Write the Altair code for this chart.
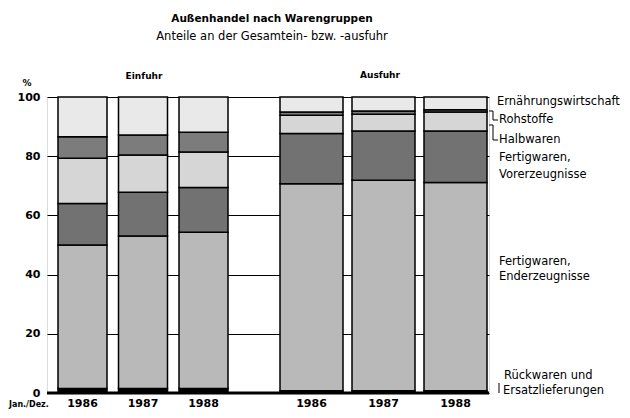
import altair as alt
import pandas as pd

# ---------------- data ----------------
groups = [
    "Rückwaren und Ersatzlieferungen",
    "Fertigwaren, Enderzeugnisse",
    "Fertigwaren, Vorerzeugnisse",
    "Halbwaren",
    "Rohstoffe",
    "Ernährungswirtschaft",
]
years = ["1986", "1987", "1988"]

# shares in % (bottom to top), per year
einfuhr_1986 = [1.5, 48.5, 14.0, 15.3, 7.3, 13.4]
einfuhr_1987 = [1.5, 51.5, 14.8, 12.6, 6.8, 12.8]
einfuhr_1988 = [1.5, 52.8, 15.1, 12.0, 6.7, 11.9]
ausfuhr_1986 = [0.8, 69.9, 17.0, 6.1, 1.1, 5.1]
ausfuhr_1987 = [0.8, 71.1, 16.6, 5.7, 1.1, 4.7]
ausfuhr_1988 = [0.8, 70.3, 17.4, 6.4, 0.8, 4.3]

y_ticks = [0, 20, 40, 60, 80, 100]

# ---------------- layout (pixels inside plot area) ----------------
W, H = 442, 296
TOP = 89
E_START, E_STEP, E_WIDTH = 11, 60.5, 49
A_START, A_STEP, A_WIDTH = 233, 72, 63
greys = ["#000000", "#b9b9b9", "#727272", "#d6d6d6", "#7c7c7c", "#e9e9e9"]
FONT = "DejaVu Sans"

series = {
    ("Einfuhr", "1986"): einfuhr_1986,
    ("Einfuhr", "1987"): einfuhr_1987,
    ("Einfuhr", "1988"): einfuhr_1988,
    ("Ausfuhr", "1986"): ausfuhr_1986,
    ("Ausfuhr", "1987"): ausfuhr_1987,
    ("Ausfuhr", "1988"): ausfuhr_1988,
}

rows = []
labels = []
for (flow, year), vals in series.items():
    i = years.index(year)
    if flow == "Einfuhr":
        x0 = E_START + i * E_STEP
        x1 = x0 + E_WIDTH
    else:
        x0 = A_START + i * A_STEP
        x1 = x0 + A_WIDTH
    labels.append({"year": year, "xc": (x0 + x1) / 2})
    for k, (g, v) in enumerate(zip(groups, vals)):
        rows.append({"key": flow + year, "group": g, "order": k,
                     "value": v, "x0": x0, "x1": x1})
df = pd.DataFrame(rows)
lab_df = pd.DataFrame(labels)

xscale = alt.Scale(domain=[0, W], nice=False, zero=False)
yscale = alt.Scale(domain=[0, 100], nice=False)

bars = alt.Chart(df).transform_stack(
    stack="value", as_=["y0", "y1"], groupby=["key"],
    sort=[alt.SortField("order", order="ascending")]
).mark_rect(stroke="black", strokeWidth=1.5).encode(
    x=alt.X("x0:Q", scale=xscale, axis=None),
    x2="x1:Q",
    y=alt.Y("y0:Q", scale=yscale,
            axis=alt.Axis(values=y_ticks, title=None, grid=True, domain=False,
                          ticks=False, labelPadding=7, labelFont=FONT,
                          labelFontWeight="bold", labelFontSize=11,
                          labelColor="black", gridColor="black", gridWidth=1)),
    y2="y1:Q",
    color=alt.Color("group:N", scale=alt.Scale(domain=groups, range=greys), legend=None),
)

baseline = alt.Chart(pd.DataFrame({"z": [0]})).mark_rule(color="black", strokeWidth=3).encode(
    y=alt.Y("z:Q", scale=yscale), x=alt.value(0), x2=alt.value(W)
)

YEAR_Y = H + 14

year_text = alt.Chart(lab_df).mark_text(
    font=FONT, fontWeight="bold", fontSize=11, baseline="alphabetic"
).encode(
    x=alt.X("xc:Q", scale=xscale), y=alt.value(YEAR_Y), text="year:N"
)


def txt(t, x, y, size=11.5, weight="normal", align="left", baseline="middle"):
    return alt.Chart(pd.DataFrame({"t": [t]})).mark_text(
        font=FONT, fontSize=size, fontWeight=weight, align=align, baseline=baseline,
        color="black"
    ).encode(x=alt.value(x), y=alt.value(y), text="t:N")


def line(x, y, x2=None, y2=None):
    enc = {"x": alt.value(x), "y": alt.value(y)}
    if x2 is not None:
        enc["x2"] = alt.value(x2)
    if y2 is not None:
        enc["y2"] = alt.value(y2)
    return alt.Chart(pd.DataFrame({"a": [0]})).mark_rule(color="black", strokeWidth=1).encode(**enc)


annots = [
    txt("Außenhandel nach Warengruppen", 225, -78, 10.5, "bold", "center"),
    txt("Anteile an der Gesamtein- bzw. -ausfuhr", 225, -60, 11.5, "normal", "center"),
    txt("Einfuhr", 97, -21, 9, "bold", "center"),
    txt("Ausfuhr", 333, -22, 9, "bold", "center"),
    txt("%", -20, -14, 9, "bold", "center"),
    txt("Jan./Dez.", -38, YEAR_Y, 8, "bold", "left", "alphabetic"),
    txt("Ernährungswirtschaft", 450, 5),
    txt("Rohstoffe", 452, 23),
    txt("Halbwaren", 452, 43),
    txt("Fertigwaren,", 452, 61),
    txt("Vorerzeugnisse", 452, 78),
    txt("Fertigwaren,", 452, 165),
    txt("Enderzeugnisse", 452, 180),
    txt("Rückwaren und", 457, 279),
    txt("Ersatzlieferungen", 456, 294),
    line(W, 14, 446), line(446, 14, y2=23), line(446, 23, 451),
    line(W, 28, 446), line(446, 28, y2=43), line(446, 43, 451),
    line(452, 286, y2=296),
]

chart = alt.layer(bars, baseline, year_text, *annots).properties(
    width=W, height=H, autosize="none",
    padding={"left": 39, "top": TOP, "right": 133, "bottom": 402 - TOP - H},
).configure_view(stroke="black", strokeWidth=1.5).configure(background="white")

chart.save("out.html", embed_options={"renderer": "svg", "actions": False})
